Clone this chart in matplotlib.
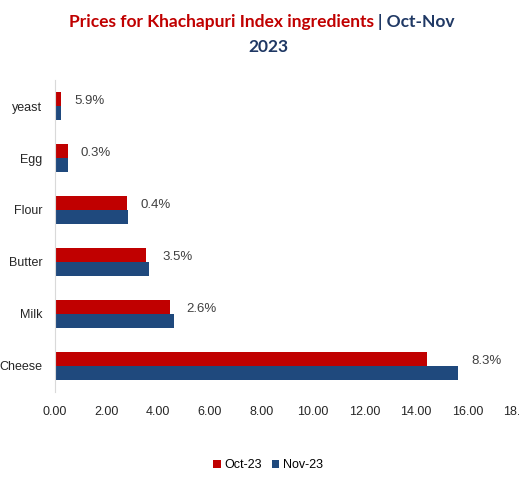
import matplotlib
matplotlib.use("Agg")
import matplotlib.pyplot as plt
import numpy as np

# data (bottom to top)
ingredients = ["Cheese", "Milk", "Butter", "Flour", "Egg", "yeast"]
oct_prices = [14.45, 4.48, 3.53, 2.81, 0.49, 0.23]
nov_prices = [15.65, 4.60, 3.66, 2.82, 0.49, 0.24]
pct_labels = ["8.3%", "2.6%", "3.5%", "0.4%", "0.3%", "5.9%"]
xticks = [0, 2, 4, 6, 8, 10, 12, 14, 16, 18]

RED = "#C00000"
BLUE = "#1F497D"
TITLE_BLUE = "#1F3864"

plt.rcParams["font.family"] = ["Liberation Sans", "DejaVu Sans"]

fig = plt.figure(figsize=(5.19, 4.83), dpi=100)
ax = fig.add_axes([55 / 519, 1 - 392 / 483, 1 - 55 / 519, 312 / 483])

y = np.arange(len(ingredients))
h = 0.26
ax.barh(y + h / 2, oct_prices, height=h, color=RED, label="Oct-23")
ax.barh(y - h / 2, nov_prices, height=h, color=BLUE, label="Nov-23")

# percent change labels to the right of each pair
for i, lab in enumerate(pct_labels):
    xm = max(oct_prices[i], nov_prices[i])
    ax.text(xm + 0.5, y[i] + 0.1, lab, va="center", ha="left",
            fontsize=9.5, color="#404040")

ax.set_xlim(0, 18)
ax.set_ylim(-0.5, len(ingredients) - 0.5)
ax.set_yticks(y)
ax.set_yticklabels(ingredients, fontsize=9, color="#262626")
ax.set_xticks(xticks)
ax.set_xticklabels([f"{v:.2f}" for v in xticks], fontsize=9, color="#262626")
ax.tick_params(axis="both", length=0)
ax.tick_params(axis="y", pad=9)
ax.tick_params(axis="x", pad=10)
for s in ["top", "right", "bottom"]:
    ax.spines[s].set_visible(False)
ax.spines["left"].set_color("#D9D9D9")

leg = fig.legend(loc="center", bbox_to_anchor=(268 / 519, 1 - 465 / 483),
                 ncol=2, frameon=False, fontsize=9, handlelength=0.6,
                 handleheight=0.6, handletextpad=0.3, columnspacing=0.8)

# two coloured title
fig.canvas.draw()
r = fig.canvas.get_renderer()
tfont = dict(fontsize=12.5, fontweight="bold", family=["Lato", "DejaVu Sans"])
t1 = fig.text(0, 0, "Prices for Khachapuri Index ingredients ", color=RED, **tfont)
t2 = fig.text(0, 0, "| Oct-Nov", color=TITLE_BLUE, **tfont)
w1 = t1.get_window_extent(r).width
w2 = t2.get_window_extent(r).width
x0 = (262 - (w1 + w2) / 2) / 519
t1.set_position((x0, 1 - 22 / 483))
t2.set_position((x0 + w1 / 519, 1 - 22 / 483))
t1.set_va("center")
t2.set_va("center")
fig.text(268 / 519, 1 - 47 / 483, "2023", color=TITLE_BLUE, ha="center",
         va="center", **tfont)

fig.savefig("out.png", dpi=100)
